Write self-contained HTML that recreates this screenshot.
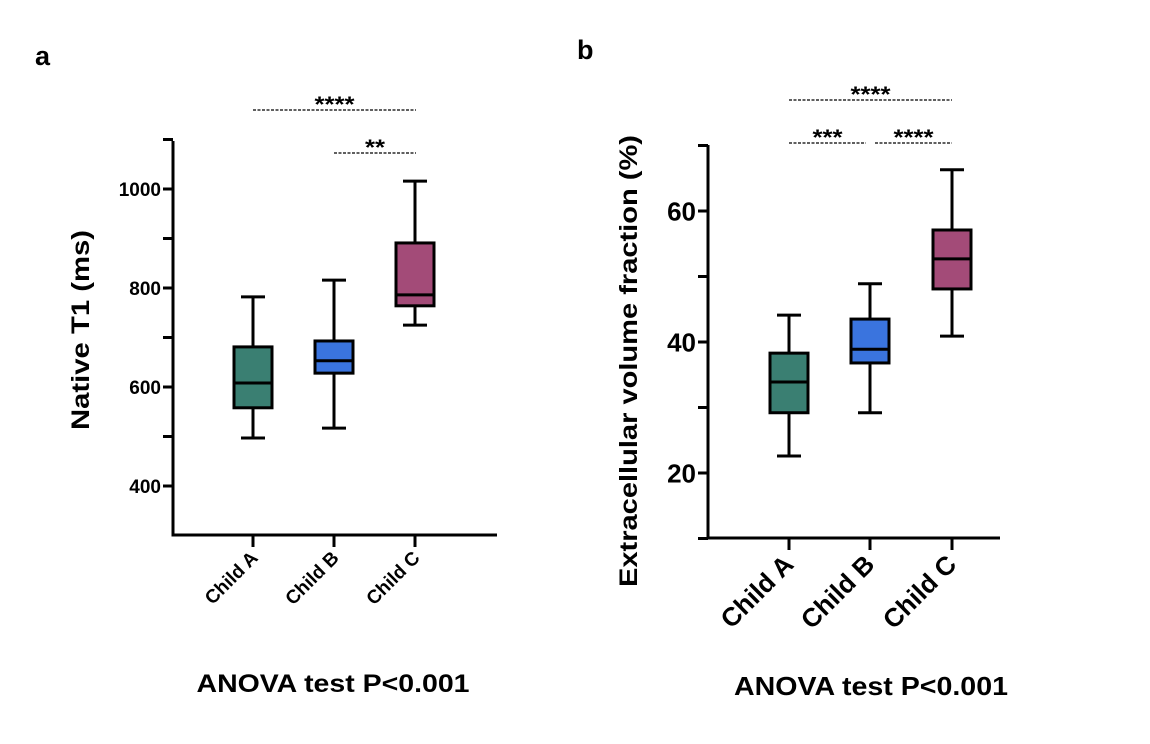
<!DOCTYPE html>
<html><head><meta charset="utf-8">
<style>
html,body{margin:0;padding:0;background:#fff;}
svg{display:block;font-family:"Liberation Sans",Arial,sans-serif;font-weight:bold;}
</style></head>
<body>
<svg id="fig" width="1150" height="744" viewBox="0 0 1150 744" xmlns="http://www.w3.org/2000/svg">
<text x="35" y="65" font-size="27">a</text>
<text x="577" y="59" font-size="27">b</text>
<g id="pa"></g>
<g id="pb"></g>
</svg>
<script>
// Panel a data
const categoriesA = ["Child A","Child B","Child C"];
const whiskerLowA = [497, 517, 725];
const q1A = [558, 628, 764];
const medianA = [608, 653, 786];
const q3A = [681, 693, 891];
const whiskerHighA = [782, 816, 1016];
const ticksA = [400, 600, 800, 1000];
const minorTicksA = [500, 700, 900, 1100];
// Panel b data
const categoriesB = ["Child A","Child B","Child C"];
const whiskerLowB = [22.6, 29.2, 40.9];
const q1B = [29.2, 36.8, 48.1];
const medianB = [33.9, 38.9, 52.7];
const q3B = [38.3, 43.5, 57.1];
const whiskerHighB = [44.1, 48.9, 66.3];
const ticksB = [20, 40, 60];
const minorTicksB = [10, 30, 50, 70];
const colors = ["#3a7f72", "#3a74de", "#a34b78"];

const NS = "http://www.w3.org/2000/svg";
function mk(parent, tag, attrs, text){
  const e = document.createElementNS(NS, tag);
  for (const k in attrs) e.setAttribute(k, attrs[k]);
  if (text !== undefined) e.textContent = text;
  parent.appendChild(e);
  return e;
}

function drawPanel(g, cfg){
  const y = v => cfg.y0 - (v - cfg.v0) * cfg.scale;
  const sw = 3;
  const ya = mk(g, "line", {x1:cfg.ax, y1:cfg.top, x2:cfg.ax, y2:cfg.bottom, stroke:"#000","stroke-width":sw});
  
  
  const xa = mk(g, "line", {x1:cfg.ax - 1.5, y1:cfg.bottom, x2:cfg.axEnd, y2:cfg.bottom, stroke:"#000","stroke-width":sw});
  
  
  cfg.ticks.forEach(t => {
    const tl = mk(g, "line", {x1:cfg.ax - 10, y1:y(t), x2:cfg.ax, y2:y(t), stroke:"#000","stroke-width":sw});
    
    
    const tx = mk(g, "text", {x:cfg.ax - 12, y:y(t) + cfg.tickFont*0.36, "font-size":cfg.tickFont, "text-anchor":"end"}, String(t));
    
    
  });
  cfg.minor.forEach(t => {
    const tl = mk(g, "line", {x1:cfg.ax - 10, y1:y(t), x2:cfg.ax, y2:y(t), stroke:"#000","stroke-width":sw});
    
    
  });
  cfg.cats.forEach((c, i) => {
    const cx = cfg.cx[i];
    const xt = mk(g, "line", {x1:cx, y1:cfg.bottom, x2:cx, y2:cfg.bottom + 12, stroke:"#000","stroke-width":sw});
    
    
    const lx = cx + cfg.lblDx, ly = cfg.bottom + cfg.lblDy;
    const lb = mk(g, "text", {x:lx, y:ly, "font-size":cfg.catFont, "text-anchor":"end", transform:`rotate(-45 ${lx} ${ly})`}, c);
    
    
    const bg = mk(g, "g", {});
    
    
    const hw = 19, cw = 12;
    mk(bg, "line", {x1:cx, y1:y(cfg.hi[i]), x2:cx, y2:y(cfg.q3[i]), stroke:"#000","stroke-width":sw});
    mk(bg, "line", {x1:cx, y1:y(cfg.q1[i]), x2:cx, y2:y(cfg.lo[i]), stroke:"#000","stroke-width":sw});
    mk(bg, "line", {x1:cx-cw, y1:y(cfg.hi[i]), x2:cx+cw, y2:y(cfg.hi[i]), stroke:"#000","stroke-width":sw});
    mk(bg, "line", {x1:cx-cw, y1:y(cfg.lo[i]), x2:cx+cw, y2:y(cfg.lo[i]), stroke:"#000","stroke-width":sw});
    mk(bg, "rect", {x:cx-hw, y:y(cfg.q3[i]), width:2*hw, height:y(cfg.q1[i]) - y(cfg.q3[i]), fill:colors[i], stroke:"#000","stroke-width":sw});
    mk(bg, "line", {x1:cx-hw, y1:y(cfg.med[i]), x2:cx+hw, y2:y(cfg.med[i]), stroke:"#000","stroke-width":sw});
  });
  cfg.sig.forEach(s => {
    const sl = mk(g, "line", {x1:s.x1, y1:s.y, x2:s.x2, y2:s.y, stroke:"#000","stroke-width":1.2,"stroke-dasharray":"3,1.5"});
    
    
    const st = mk(g, "text", {x:(s.x1+s.x2)/2, y:s.y + 2, "font-size":22, "text-anchor":"middle", textLength:s.t.length*10, lengthAdjust:"spacingAndGlyphs"}, s.t);
    
    
  });
  const yt = mk(g, "text", {x:cfg.ytX, y:cfg.ytY, "font-size":cfg.ytFont, "text-anchor":"middle", textLength:cfg.ytLen, lengthAdjust:"spacingAndGlyphs", transform:`rotate(-90 ${cfg.ytX} ${cfg.ytY})`}, cfg.yTitle);
  
  
  const an = mk(g, "text", {x:cfg.anX, y:cfg.anY, "font-size":cfg.anFont, "text-anchor":"middle", textLength:cfg.anLen, lengthAdjust:"spacingAndGlyphs"}, "ANOVA test P<0.001");
  
  
}

drawPanel(document.getElementById("pa"), {
  y0:486, v0:400, scale:0.495, ax:173, top:141, bottom:535, axEnd:497,
  ticks:ticksA, minor:minorTicksA, tickFont:19,
  cats:categoriesA, cx:[253,334,415], lo:whiskerLowA, q1:q1A, med:medianA, q3:q3A, hi:whiskerHighA,
  lblDx:6, lblDy:24, catFont:19,
  sig:[{x1:253,x2:416,y:110,t:"****"},{x1:334,x2:416,y:153,t:"**"}],
  yTitle:"Native T1 (ms)", ytX:89, ytY:330, ytFont:25, ytLen:200,
  anX:333, anY:692, anFont:25, anLen:273
});
drawPanel(document.getElementById("pb"), {
  y0:473, v0:20, scale:6.55, ax:708, top:145, bottom:538, axEnd:1000,
  ticks:ticksB, minor:minorTicksB, tickFont:26,
  cats:categoriesB, cx:[789,870,952], lo:whiskerLowB, q1:q1B, med:medianB, q3:q3B, hi:whiskerHighB,
  lblDx:6, lblDy:28, catFont:26,
  sig:[{x1:789,x2:952,y:100,t:"****"},{x1:789,x2:866,y:143,t:"***"},{x1:875,x2:952,y:143,t:"****"}],
  yTitle:"Extracellular volume fraction  (%)", ytX:637, ytY:361, ytFont:25, ytLen:452,
  anX:871, anY:695, anFont:26, anLen:274
});
</script>
</body></html>
